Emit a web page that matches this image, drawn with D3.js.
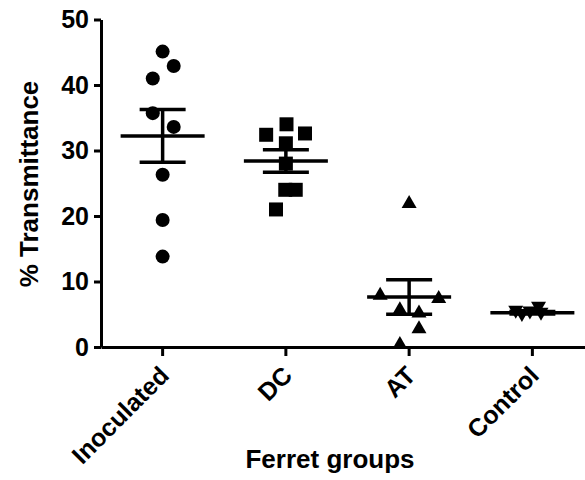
<!DOCTYPE html>
<html>
<head>
<meta charset="utf-8">
<script src="https://cdn.jsdelivr.net/npm/d3@7"></script>
<style>
  body { margin: 0; background: #fff; }
  text { font-family: "Liberation Sans", Arial, sans-serif; font-weight: bold; }
</style>
</head>
<body>
<svg id="chart" width="585" height="480"></svg>
<script>
// groups on the x axis
var groups = ["Inoculated", "DC", "AT", "Control"];

// % transmittance per ferret
var inoculated = [45.1, 42.9, 41.0, 35.7, 33.6, 26.3, 19.4, 13.8];
var dc = [34.0, 32.4, 32.6, 31.1, 28.0, 24.0, 24.0, 21.0];
var at = [22.2, 8.2, 7.7, 6.0, 5.5, 3.1, 0.7];
var control = [5.3, 4.8, 5.2, 5.9, 5.0];

// horizontal scatter of each point, as a fraction of the group spacing
var jitterInoculated = [0, 0.09, -0.08, -0.08, 0.09, 0, 0, 0];
var jitterDc = [0.005, -0.16, 0.155, 0, 0, -0.005, 0.08, -0.08];
var jitterAt = [0, -0.235, 0.24, -0.075, 0.08, 0.08, -0.075];
var jitterControl = [-0.135, -0.085, -0.02, 0.05, 0.07];

var yTicks = [0, 10, 20, 30, 40, 50];

var series = [
    {name: "Inoculated", values: inoculated, jitter: jitterInoculated, shape: "circle"},
    {name: "DC", values: dc, jitter: jitterDc, shape: "square"},
    {name: "AT", values: at, jitter: jitterAt, shape: "up"},
    {name: "Control", values: control, jitter: jitterControl, shape: "down"}
];

var svg = d3.select("#chart");

// scales
var x = d3.scaleBand()
    .domain(groups)
    .range([101, 594])
    .padding(0);

var y = d3.scaleLinear()
    .domain([0, 50])
    .range([347, 19.5]);

// y axis
var yAxis = svg.append("g")
    .attr("transform", "translate(101,0)")
    .call(d3.axisLeft(y).tickValues(yTicks).tickSize(7).tickPadding(5).tickSizeOuter(0));

// x axis
var xAxis = svg.append("g")
    .attr("transform", "translate(0,347)")
    .call(d3.axisBottom(x).tickSize(9).tickSizeOuter(0));

svg.selectAll(".domain, .tick line")
    .attr("stroke", "#000")
    .attr("stroke-width", 3);

yAxis.selectAll(".tick text")
    .attr("font-size", 25)
    .attr("fill", "#000");

xAxis.selectAll(".tick text")
    .attr("font-size", 25)
    .attr("fill", "#000")
    .attr("text-anchor", "end")
    .attr("dy", 0)
    .attr("y", 0)
    .attr("transform", "translate(8,30) rotate(-45)");

// axis titles
svg.append("text")
    .attr("transform", "translate(38,184) rotate(-90)")
    .attr("text-anchor", "middle")
    .attr("font-size", 26)
    .text("% Transmittance");

svg.append("text")
    .attr("x", 330)
    .attr("y", 468)
    .attr("text-anchor", "middle")
    .attr("font-size", 26)
    .text("Ferret groups");

// marker shapes
function markerPath(shape) {
    if (shape == "circle") return d3.symbol().type(d3.symbolCircle).size(Math.PI * 7 * 7)();
    if (shape == "square") return "M-7,-7H7V7H-7Z";
    if (shape == "up") return "M0,-6.5L7.5,6.5L-7.5,6.5Z";
    return "M0,6.5L7.5,-6.5L-7.5,-6.5Z";
}

var step = x.step();

series.forEach(function(s) {
    var cx = x(s.name) + x.bandwidth() / 2;

    // points
    svg.append("g")
        .selectAll("path")
        .data(s.values)
        .enter()
        .append("path")
        .attr("d", markerPath(s.shape))
        .attr("transform", function(d, i) {
            return "translate(" + (cx + s.jitter[i] * step) + "," + y(d) + ")";
        })
        .attr("fill", "#000");

    // mean and SEM
    var mean = d3.mean(s.values);
    var sem = d3.deviation(s.values) / Math.sqrt(s.values.length);

    var g = svg.append("g")
        .attr("stroke", "#000")
        .attr("stroke-width", 3.5);

    g.append("line")
        .attr("x1", cx - 42).attr("x2", cx + 42)
        .attr("y1", y(mean)).attr("y2", y(mean));
    g.append("line")
        .attr("x1", cx).attr("x2", cx)
        .attr("y1", y(mean + sem)).attr("y2", y(mean - sem));
    g.append("line")
        .attr("x1", cx - 23).attr("x2", cx + 23)
        .attr("y1", y(mean + sem)).attr("y2", y(mean + sem));
    g.append("line")
        .attr("x1", cx - 23).attr("x2", cx + 23)
        .attr("y1", y(mean - sem)).attr("y2", y(mean - sem));
});
</script>
</body>
</html>
